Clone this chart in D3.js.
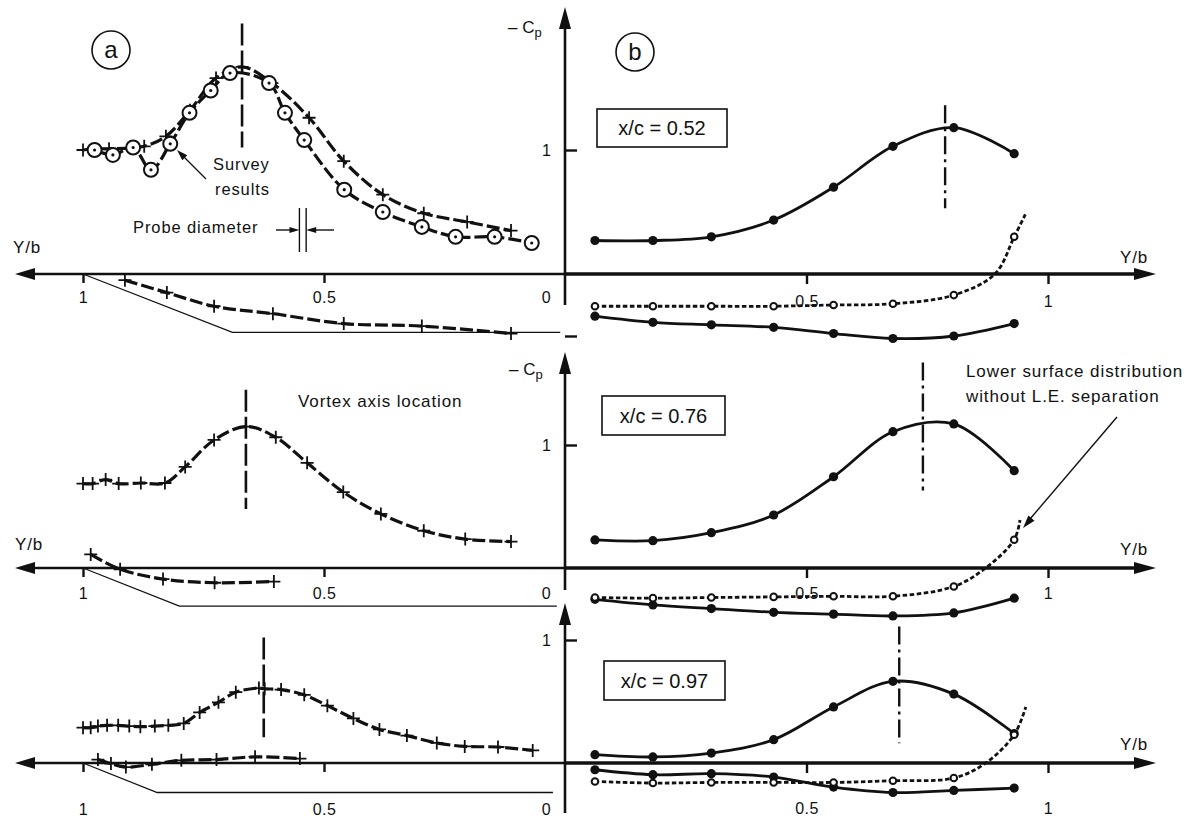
<!DOCTYPE html>
<html>
<head>
<meta charset="utf-8">
<script src="https://cdn.jsdelivr.net/npm/d3@7"></script>
<style>
    body { margin: 0; background: #fff; }
    text { font-family: "Liberation Sans", Arial, sans-serif; fill: #111; }
</style>
</head>
<body>
<div id="chart"></div>
<script>
// ---------------- panel (a): survey results, Y/b runs 1 (left) -> 0 (centre) ----------------
// row 1 (x/c = 0.52)
var a1PlusYb = [1.0, 0.975, 0.946, 0.873, 0.828, 0.778, 0.724, 0.670, 0.608, 0.531, 0.459, 0.378, 0.293, 0.203, 0.112];
var a1PlusCp = [1.0, 1.01, 1.01, 1.03, 1.11, 1.32, 1.58, 1.67, 1.54, 1.26, 0.91, 0.64, 0.49, 0.42, 0.35];
var a1SurveyYb = [0.976, 0.938, 0.896, 0.859, 0.819, 0.779, 0.735, 0.695, 0.614, 0.581, 0.541, 0.458, 0.378, 0.297, 0.227, 0.146, 0.069];
var a1SurveyCp = [1.0, 0.96, 1.02, 0.84, 1.05, 1.30, 1.48, 1.62, 1.54, 1.30, 1.08, 0.68, 0.50, 0.38, 0.30, 0.30, 0.25];
var a1LowYb = [0.913, 0.826, 0.728, 0.606, 0.459, 0.297, 0.112];
var a1LowCp = [-0.05, -0.15, -0.26, -0.32, -0.40, -0.42, -0.48];
// row 2 (x/c = 0.76)
var a2PlusYb = [1.0, 0.980, 0.953, 0.926, 0.880, 0.830, 0.788, 0.728, 0.662, 0.600, 0.535, 0.460, 0.382, 0.293, 0.207, 0.112];
var a2PlusCp = [0.686, 0.686, 0.719, 0.686, 0.691, 0.691, 0.822, 1.041, 1.150, 1.063, 0.855, 0.617, 0.440, 0.303, 0.235, 0.215];
var a2LowYb = [0.984, 0.923, 0.834, 0.727, 0.604];
var a2LowCp = [0.11, -0.01, -0.09, -0.12, -0.11];
// row 3 (x/c = 0.97)
var a3PlusYb = [1.0, 0.984, 0.969, 0.950, 0.927, 0.904, 0.881, 0.851, 0.823, 0.791, 0.758, 0.719, 0.683, 0.635, 0.623,
    0.589, 0.541, 0.493, 0.439, 0.385, 0.328, 0.266, 0.208, 0.139, 0.067];
var a3PlusCp = [0.287, 0.287, 0.300, 0.306, 0.306, 0.300, 0.295, 0.300, 0.306, 0.322, 0.411, 0.493, 0.576, 0.609, 0.603,
    0.597, 0.554, 0.466, 0.362, 0.273, 0.223, 0.163, 0.135, 0.130, 0.102];
var a3LowYb = [0.969, 0.942, 0.911, 0.857, 0.796, 0.723, 0.643, 0.550];
var a3LowCp = [0.028, -0.005, -0.033, -0.011, 0.022, 0.028, 0.05, 0.036];

// vortex axis location in (a), and the thin wing section outline under each axis
var aVortexYb = [0.670, 0.662, 0.625];
var aVortexTop = [2.02, 1.45, 1.02];
var aVortexBottom = [1.02, 0.48, 0.21];
var wingKinkYb = [0.69, 0.80, 0.846];
var wingEndYb = [0.01, 0.017, 0.025];
var wingCp = [-0.47, -0.31, -0.24];

// ---------------- panel (b): pressure distributions, Y/b runs 0 (centre) -> 1 (right) ----------------
var xcLabels = ["x/c = 0.52", "x/c = 0.76", "x/c = 0.97"];
var bStations = [0.062, 0.182, 0.303, 0.432, 0.556, 0.679, 0.805, 0.93];
// upper surface, lower surface, lower surface without L.E. separation
var b1Upper = [0.27, 0.27, 0.30, 0.435, 0.70, 1.03, 1.18, 0.97];
var b1Lower = [-0.34, -0.39, -0.41, -0.43, -0.48, -0.52, -0.50, -0.40];
var b1Ref = [-0.26, -0.26, -0.26, -0.26, -0.25, -0.24, -0.17, 0.30];
var b1RefTailYb = [0.89, 0.953], b1RefTailCp = [0, 0.48];
var b2Upper = [0.228, 0.222, 0.287, 0.431, 0.742, 1.108, 1.171, 0.791];
var b2Lower = [-0.255, -0.30, -0.33, -0.36, -0.375, -0.39, -0.365, -0.245];
var b2Ref = [-0.24, -0.245, -0.24, -0.235, -0.23, -0.23, -0.15, 0.23];
var b2RefTailYb = [0.871, 0.942], b2RefTailCp = [0, 0.39];
var b3Upper = [0.068, 0.049, 0.081, 0.19, 0.456, 0.664, 0.56, 0.24];
var b3Lower = [-0.055, -0.095, -0.087, -0.114, -0.196, -0.24, -0.223, -0.204];
var b3Ref = [-0.15, -0.163, -0.158, -0.158, -0.158, -0.144, -0.122, 0.23];
var b3RefTailYb = [0.871, 0.954], b3RefTailCp = [0, 0.456];
var bVortexYb = [0.787, 0.741, 0.692];
var bVortexTop = [1.36, 1.67, 1.11];
var bVortexBottom = [0.53, 0.63, 0.16];

// tick values
var ybTicksLeft = [1, 0.5, 0];
var ybTicksRight = [0.5, 1];
var cpTicks = [[1, -0.5], [1], [1]];

// ---------------- layout ----------------
var width = 1189, height = 821;
var xc = 565; // shared -Cp axis
var rows = [
    {axis: 274, unit: 124, tip: 7, bottom: 305, lblBase: 303, rLblBase: 307},
    {axis: 568, unit: 123, tip: 352, bottom: 590, lblBase: 599, rLblBase: 599},
    {axis: 763, unit: 123, tip: 603, bottom: 813, lblBase: 815, rLblBase: 814}
];

var xL = d3.scaleLinear().domain([0, 1]).range([xc, 83]);
var xR = d3.scaleLinear().domain([0, 1]).range([xc, 1048]);
rows.forEach(function (r) {
    r.y = d3.scaleLinear().domain([0, 1]).range([r.axis, r.axis - r.unit]);
});
var fmt = d3.format("~g");

var svg = d3.select("#chart").append("svg")
    .attr("width", width)
    .attr("height", height);
svg.append("rect").attr("width", width).attr("height", height).attr("fill", "#fff");

function zip(a, b) {
    return a.map(function (d, i) { return [d, b[i]]; });
}

// arrow head polygon, tip at (x,y), pointing in direction (dx,dy)
function arrowHead(g, x, y, dx, dy, len, half) {
    var px = -dy, py = dx;
    var bx = x - dx * len, by = y - dy * len;
    g.append("path")
        .attr("d", "M" + x + "," + y + "L" + (bx + px * half) + "," + (by + py * half) +
            "L" + (bx - px * half) + "," + (by - py * half) + "Z")
        .attr("fill", "#111");
}

var panelA = [
    {plus: zip(a1PlusYb, a1PlusCp), survey: zip(a1SurveyYb, a1SurveyCp), low: zip(a1LowYb, a1LowCp)},
    {plus: zip(a2PlusYb, a2PlusCp), survey: null, low: zip(a2LowYb, a2LowCp)},
    {plus: zip(a3PlusYb, a3PlusCp), survey: null, low: zip(a3LowYb, a3LowCp)}
];
var panelB = [
    {upper: b1Upper, lower: b1Lower, ref: b1Ref, tailYb: b1RefTailYb, tailCp: b1RefTailCp},
    {upper: b2Upper, lower: b2Lower, ref: b2Ref, tailYb: b2RefTailYb, tailCp: b2RefTailCp},
    {upper: b3Upper, lower: b3Lower, ref: b3Ref, tailYb: b3RefTailYb, tailCp: b3RefTailCp}
];

rows.forEach(function (r, ri) {
    var g = svg.append("g").attr("class", "row" + ri);
    var y = r.y;

    // ---- axes ----
    g.append("line").attr("x1", xc).attr("x2", 30).attr("y1", r.axis).attr("y2", r.axis)
        .attr("stroke", "#111").attr("stroke-width", 2.6);
    arrowHead(g, 15, r.axis, -1, 0, 20, 6);
    g.append("line").attr("x1", xc).attr("x2", 1140).attr("y1", r.axis).attr("y2", r.axis)
        .attr("stroke", "#111").attr("stroke-width", 3.6);
    arrowHead(g, 1156, r.axis, 1, 0, 22, 6);
    g.append("line").attr("x1", xc).attr("x2", xc).attr("y1", r.bottom).attr("y2", r.tip + 15)
        .attr("stroke", "#111").attr("stroke-width", 2.6);
    arrowHead(g, xc, r.tip, 0, -1, 22, 6);

    // Y/b ticks, left half (reversed)
    var axL = d3.axisBottom(xL).tickValues(ybTicksLeft).tickSize(9).tickPadding(0).tickFormat(fmt);
    var gl = g.append("g").attr("transform", "translate(0," + r.axis + ")").call(axL);
    gl.select(".domain").remove();
    gl.selectAll(".tick line").attr("stroke", "#111").attr("stroke-width", 2.4)
        .attr("display", function (d) { return d === 0 ? "none" : null; });
    gl.selectAll(".tick text")
        .attr("y", r.lblBase - r.axis).attr("dy", 0)
        .attr("dx", function (d) { return d === 0 ? -19 : 0; })
        .style("font-size", "16px").style("letter-spacing", "0.5px")
        .style("font-family", "Liberation Sans, Arial, sans-serif").attr("fill", "#111");

    // Y/b ticks, right half
    var axR = d3.axisBottom(xR).tickValues(ybTicksRight).tickSize(10).tickPadding(0).tickFormat(fmt);
    var gr = g.append("g").attr("transform", "translate(0," + r.axis + ")").call(axR);
    gr.select(".domain").remove();
    gr.selectAll(".tick line").attr("stroke", "#111").attr("stroke-width", 2.4);
    gr.selectAll(".tick text")
        .attr("y", r.rLblBase - r.axis).attr("dy", 0)
        .style("font-size", "16px").style("letter-spacing", "0.5px")
        .style("font-family", "Liberation Sans, Arial, sans-serif").attr("fill", "#111");

    // -Cp ticks
    var axY = d3.axisLeft(y).tickValues(cpTicks[ri]).tickSize(-12).tickPadding(14)
        .tickFormat(function (d) { return d === 1 ? "1" : ""; });
    var gy = g.append("g").attr("transform", "translate(" + xc + ",0)").call(axY);
    gy.select(".domain").remove();
    gy.selectAll(".tick line").attr("stroke", "#111").attr("stroke-width", 2.4);
    gy.selectAll(".tick text").style("font-size", "16px")
        .style("font-family", "Liberation Sans, Arial, sans-serif").attr("fill", "#111");

    // ---- panel (a) ----
    var A = panelA[ri];
    var lineA = d3.line().x(function (d) { return xL(d[0]); }).y(function (d) { return y(d[1]); })
        .curve(d3.curveCatmullRom.alpha(0.5));

    // wing section outline
    g.append("path")
        .attr("d", d3.line().x(function (d) { return xL(d[0]); }).y(function (d) { return y(d[1]); })(
            [[1, 0], [wingKinkYb[ri], wingCp[ri]], [wingEndYb[ri], wingCp[ri]]]))
        .attr("fill", "none").attr("stroke", "#111").attr("stroke-width", 1.3);

    [A.plus, A.survey, A.low].forEach(function (s) {
        if (!s) return;
        g.append("path").attr("d", lineA(s))
            .attr("fill", "none").attr("stroke", "#111").attr("stroke-width", 3.2)
            .attr("stroke-dasharray", "13,4");
    });
    [A.plus, A.low].forEach(function (s) {
        g.selectAll(null).data(s).enter().append("path")
            .attr("transform", function (d) { return "translate(" + xL(d[0]) + "," + y(d[1]) + ")"; })
            .attr("d", "M-6.5,0H6.5M0,-6.5V6.5")
            .attr("stroke", "#111").attr("stroke-width", 1.8).attr("fill", "none");
    });
    if (A.survey) {
        var sv = g.selectAll(null).data(A.survey).enter().append("g")
            .attr("transform", function (d) { return "translate(" + xL(d[0]) + "," + y(d[1]) + ")"; });
        sv.append("circle").attr("r", 7).attr("fill", "#fff").attr("stroke", "#111").attr("stroke-width", 2);
        sv.append("circle").attr("r", 1.6).attr("fill", "#111");
    }
    // vortex axis location (dashed)
    g.append("line")
        .attr("x1", xL(aVortexYb[ri])).attr("x2", xL(aVortexYb[ri]))
        .attr("y1", y(aVortexTop[ri])).attr("y2", y(aVortexBottom[ri]))
        .attr("stroke", "#111").attr("stroke-width", 2.6).attr("stroke-dasharray", "22,5");

    // ---- panel (b) ----
    var B = panelB[ri];
    var lineB = d3.line().x(function (d) { return xR(d[0]); }).y(function (d) { return y(d[1]); })
        .curve(d3.curveCatmullRom.alpha(0.5));
    var refPts = zip(bStations, B.ref).concat(zip(B.tailYb, B.tailCp))
        .sort(function (a, b) { return a[0] - b[0]; });

    g.append("path").attr("d", lineB(refPts))
        .attr("fill", "none").attr("stroke", "#111").attr("stroke-width", 2.8)
        .attr("stroke-dasharray", "4.5,2.5");
    [B.upper, B.lower].forEach(function (s) {
        g.append("path").attr("d", lineB(zip(bStations, s)))
            .attr("fill", "none").attr("stroke", "#111").attr("stroke-width", 2.8);
    });
    [B.upper, B.lower].forEach(function (s) {
        g.selectAll(null).data(zip(bStations, s)).enter().append("circle")
            .attr("cx", function (d) { return xR(d[0]); })
            .attr("cy", function (d) { return y(d[1]); })
            .attr("r", 4.6).attr("fill", "#111");
    });
    g.selectAll(null).data(zip(bStations, B.ref)).enter().append("circle")
        .attr("cx", function (d) { return xR(d[0]); })
        .attr("cy", function (d) { return y(d[1]); })
        .attr("r", 3.3).attr("fill", "#fff").attr("stroke", "#111").attr("stroke-width", 2);

    // vortex axis (dash-dot)
    g.append("line")
        .attr("x1", xR(bVortexYb[ri])).attr("x2", xR(bVortexYb[ri]))
        .attr("y1", y(bVortexTop[ri])).attr("y2", y(bVortexBottom[ri]))
        .attr("stroke", "#111").attr("stroke-width", 2.4).attr("stroke-dasharray", "18,5,3,5");
});

// ---------------- labels & annotations ----------------
function label(x, y, txt, size, anchor) {
    return svg.append("text").attr("x", x).attr("y", y)
        .attr("text-anchor", anchor || "start")
        .style("font-size", size + "px")
        .style("letter-spacing", "0.9px")
        .text(txt);
}

// -Cp axis titles
[{x: 508, y: 33}, {x: 509, y: 375}].forEach(function (p) {
    var t = svg.append("text").attr("x", p.x).attr("y", p.y).style("font-size", "17px");
    t.append("tspan").text("\u2013 C");
    t.append("tspan").attr("dy", 4).style("font-size", "13px").text("p");
});

// Y/b labels
label(13, 253, "Y/b", 17);
label(15, 550, "Y/b", 17);
label(1120, 263, "Y/b", 17);
label(1120, 555, "Y/b", 17);
label(1120, 750, "Y/b", 17);

// panel markers (a), (b)
[{x: 111, y: 50, t: "a"}, {x: 635, y: 52, t: "b"}].forEach(function (p) {
    svg.append("circle").attr("cx", p.x).attr("cy", p.y).attr("r", 19)
        .attr("fill", "none").attr("stroke", "#111").attr("stroke-width", 1.6);
    svg.append("text").attr("x", p.x).attr("y", p.y + 8).attr("text-anchor", "middle")
        .style("font-size", "24px").text(p.t);
});

// x/c boxes
var boxes = [{x: 597, y: 109, w: 130, h: 38}, {x: 602, y: 396, w: 123, h: 39}, {x: 604, y: 661, w: 121, h: 39}];
boxes.forEach(function (b, i) {
    svg.append("rect").attr("x", b.x).attr("y", b.y).attr("width", b.w).attr("height", b.h)
        .attr("fill", "#fff").attr("stroke", "#111").attr("stroke-width", 1.6);
    svg.append("text").attr("x", b.x + b.w / 2).attr("y", b.y + b.h / 2 + 7)
        .attr("text-anchor", "middle").style("font-size", "20px").text(xcLabels[i]);
});

// survey results
label(213, 170, "Survey", 16.5);
label(215, 195, "results", 16.5);
svg.append("line").attr("x1", 206).attr("y1", 179).attr("x2", 182).attr("y2", 155)
    .attr("stroke", "#111").attr("stroke-width", 1.3);
arrowHead(svg, 177, 150, -0.707, -0.707, 11, 3.5);

// probe diameter
label(133, 233, "Probe diameter", 16.5);
svg.append("line").attr("x1", xL(0.551)).attr("x2", xL(0.551)).attr("y1", 208).attr("y2", 252)
    .attr("stroke", "#111").attr("stroke-width", 1.4);
svg.append("line").attr("x1", xL(0.537)).attr("x2", xL(0.537)).attr("y1", 208).attr("y2", 252)
    .attr("stroke", "#111").attr("stroke-width", 1.4);
svg.append("line").attr("x1", 276).attr("x2", 290).attr("y1", 230).attr("y2", 230)
    .attr("stroke", "#111").attr("stroke-width", 1.4);
arrowHead(svg, xL(0.551), 230, 1, 0, 10, 3);
svg.append("line").attr("x1", 334).attr("x2", 316).attr("y1", 230).attr("y2", 230)
    .attr("stroke", "#111").attr("stroke-width", 1.4);
arrowHead(svg, xL(0.537), 230, -1, 0, 10, 3);

// vortex axis location
label(298, 407, "Vortex axis location", 17);

// lower surface annotation
label(966, 377, "Lower surface distribution", 17);
label(966, 402, "without L.E. separation", 17);
svg.append("line").attr("x1", 1117).attr("y1", 417).attr("x2", 1030).attr("y2", 519)
    .attr("stroke", "#111").attr("stroke-width", 1.4);
arrowHead(svg, 1023, 528, -0.65, 0.76, 13, 4);
</script>
</body>
</html>
